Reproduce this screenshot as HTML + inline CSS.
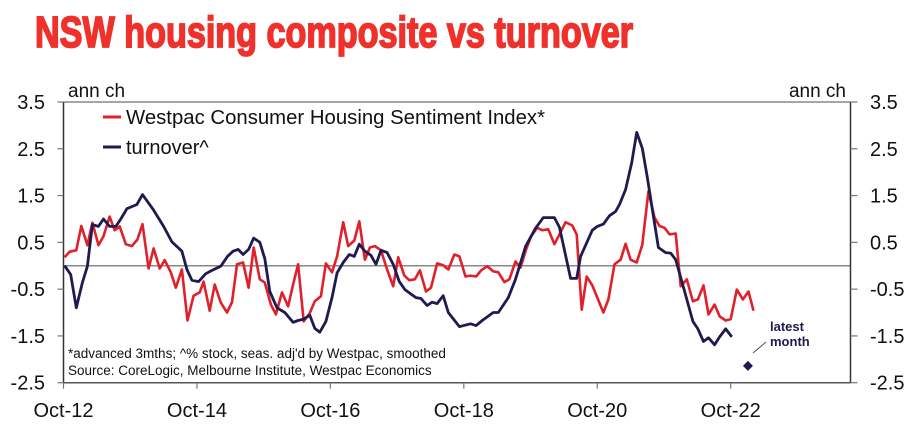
<!DOCTYPE html>
<html><head><meta charset="utf-8"><style>
body{margin:0;background:#fff;}
svg{display:block;font-family:"Liberation Sans",Arial,sans-serif;}
</style></head><body>
<svg id="chart" width="919" height="437" viewBox="0 0 919 437" xmlns="http://www.w3.org/2000/svg">
<text x="35" y="47" font-size="44" font-weight="bold" fill="#f0302a" stroke="#f0302a" stroke-width="1.8" textLength="598" lengthAdjust="spacingAndGlyphs">NSW housing composite vs turnover</text>
<g id="axes"></g>
<g id="series"></g>
<text x="68" y="97" font-size="19" fill="#111">ann ch</text>
<text x="846" y="97" font-size="19" fill="#111" text-anchor="end">ann ch</text>
<line x1="103" y1="117" x2="121" y2="117" stroke="#e0202a" stroke-width="3"/>
<text x="126" y="124" font-size="20" fill="#111" textLength="419" lengthAdjust="spacingAndGlyphs">Westpac Consumer Housing Sentiment Index*</text>
<line x1="103" y1="147" x2="121" y2="147" stroke="#1f1a4f" stroke-width="3"/>
<text x="126" y="154" font-size="20" fill="#111">turnover^</text>
<text x="68" y="358" font-size="13.5" fill="#111">*advanced 3mths; ^% stock, seas. adj'd by Westpac, smoothed</text>
<text x="68" y="375" font-size="13.5" fill="#111">Source: CoreLogic, Melbourne Institute, Westpac Economics</text>
<text x="770" y="331" font-size="13" font-weight="bold" fill="#1f1a4f">latest</text>
<text x="770" y="346" font-size="13" font-weight="bold" fill="#1f1a4f">month</text>
<line x1="753" y1="353" x2="766" y2="342" stroke="#555" stroke-width="1"/>
</svg>
<script>
const redMonths=[0.2,1.1,2.3,3.2,4.3,5.2,6.3,7.2,8.3,9.2,10.1,11.2,12.3,13.3,14.2,15.3,16.2,17.3,18.2,19.3,20.2,21.3,22.3,23.4,24.5,25.2,26.3,27.2,28.3,29.4,30.3,31.2,32.3,33.3,34.2,35.3,36.2,37.3,38.2,39.3,40.4,41.3,42.2,43.2,44.3,45.2,46.3,47.2,48.3,49.2,50.3,51.2,52.3,53.2,54.2,55.1,56.0,57.1,58.2,59.3,60.2,61.3,62.2,63.2,64.1,65.2,66.1,67.2,68.3,69.2,70.3,71.2,72.3,73.2,74.2,75.1,76.2,77.3,78.2,79.3,80.2,81.3,82.2,83.2,84.1,85.2,86.1,87.2,88.3,89.2,90.3,91.5,92.3,93.2,94.1,95.1,97.1,98.0,99.1,100.2,101.1,102.0,103.1,104.1,105.2,106.3,107.2,108.1,109.0,110.1,111.0,112.1,113.2,114.1,115.1,116.0,117.1,118.0,119.1,120.0,121.1,122.2,123.2,124.1];
const redValues=[0.18,0.3,0.33,0.85,0.44,0.92,0.44,0.63,1.05,0.76,0.84,0.46,0.42,0.56,0.89,-0.06,0.37,-0.06,0.12,-0.14,-0.47,-0.08,-1.17,-0.64,-0.57,-0.34,-0.96,-0.40,-0.79,-1.0,-0.78,0.03,0.07,-0.47,0.39,-0.29,-0.36,-0.83,-1.04,-0.57,-0.87,-0.40,0.03,-1.19,-1.01,-0.76,-0.65,0.05,-0.14,0.2,0.93,0.42,0.54,0.95,0.13,0.39,0.42,0.33,-0.08,-0.44,0.18,-0.21,-0.31,-0.29,-0.10,-0.55,-0.47,0.05,0.01,-0.08,0.24,0.20,-0.23,-0.21,-0.23,-0.10,-0.01,-0.12,-0.14,-0.35,-0.29,0.09,-0.04,0.35,0.63,0.81,0.76,0.78,0.46,0.67,0.93,0.86,0.67,-0.94,-0.23,-0.42,-1.0,-0.72,0.03,0.13,0.47,0.13,0.07,0.45,1.59,1.03,0.85,0.81,0.67,0.69,-0.44,-0.29,-0.76,-0.72,-0.42,-1.04,-0.83,-1.08,-1.17,-1.14,-0.51,-0.72,-0.55,-0.96];
const blueMonths=[0.2,1.3,2.3,3.4,4.3,5.2,6.3,7.2,8.3,9.4,10.3,11.4,13.2,14.2,16.2,18.0,19.5,21.3,22.2,23.1,24.3,25.6,26.7,28.3,29.5,30.5,31.4,32.3,33.3,34.2,35.3,36.2,37.1,38.4,39.8,41.3,42.2,43.2,44.3,45.2,46.1,47.2,48.3,49.2,50.3,51.4,52.3,53.2,54.2,55.3,56.2,57.1,58.2,59.3,60.4,61.4,62.3,63.4,64.3,65.4,66.3,67.2,68.3,69.2,71.2,73.2,74.2,75.3,77.3,78.2,80.0,81.3,83.1,84.9,86.3,88.3,89.2,91.2,92.3,93.0,94.2,95.1,96.0,97.1,98.2,99.3,100.0,101.1,102.2,103.1,104.1,105.0,105.9,107.0,108.3,109.2,110.1,111.0,112.1,113.2,114.1,115.1,116.0,117.1,118.0,119.1,120.2];
const blueValues=[0,-0.19,-0.9,-0.36,-0.01,0.88,0.84,1.0,0.84,0.84,1.0,1.22,1.31,1.52,1.19,0.84,0.51,0.31,-0.08,-0.31,-0.34,-0.17,-0.10,-0.01,0.2,0.31,0.35,0.24,0.35,0.59,0.5,0.15,-0.55,-0.9,-1.0,-1.21,-1.17,-1.14,-1.06,-1.34,-1.42,-1.19,-0.68,-0.15,0.07,0.24,0.2,0.46,0.31,0.22,0.03,0.33,0.28,0.03,-0.34,-0.51,-0.59,-0.68,-0.70,-0.85,-0.78,-0.81,-0.64,-1.0,-1.3,-1.24,-1.28,-1.17,-1.0,-1.0,-0.68,-0.29,0.41,0.8,1.03,1.03,0.82,-0.27,-0.27,0.2,0.52,0.76,0.84,0.89,1.07,1.16,1.31,1.63,2.2,2.85,2.51,1.89,1.21,0.39,0.28,0.27,0.13,-0.25,-0.72,-1.19,-1.35,-1.62,-1.54,-1.69,-1.52,-1.35,-1.52];
const latestMonth=[123.1];
const latestValue=[-2.14];
const yTicks=[3.5,2.5,1.5,0.5,-0.5,-1.5,-2.5];
const yTickLabels=["3.5","2.5","1.5","0.5","-0.5","-1.5","-2.5"];
const xTickMonths=[0,24,48,72,96,120];
const xTickLabels=["Oct-12","Oct-14","Oct-16","Oct-18","Oct-20","Oct-22"];

const NS="http://www.w3.org/2000/svg";
const X0=63.5,XR=850.5,PPM=5.56,YT=102,YB=382.7,VMAX=3.5,VMIN=-2.5;
function xs(m){return X0+m*PPM;}
function ys(v){return YT+(VMAX-v)/(VMAX-VMIN)*(YB-YT);}
function mk(tag,attrs,parent){const e=document.createElementNS(NS,tag);for(const k in attrs)e.setAttribute(k,attrs[k]);parent.appendChild(e);return e;}
const axes=document.getElementById('axes'),series=document.getElementById('series');
let e;
e=mk('line',{x1:X0,y1:YT,x2:XR,y2:YT,stroke:'#888','stroke-width':1.5},axes);


e=mk('line',{x1:X0,y1:ys(0),x2:XR,y2:ys(0),stroke:'#888','stroke-width':1.5},axes);


e=mk('line',{x1:X0,y1:YT,x2:X0,y2:YB,stroke:'#333','stroke-width':1.5},axes);


e=mk('line',{x1:XR,y1:YT,x2:XR,y2:YB,stroke:'#333','stroke-width':1.5},axes);


e=mk('line',{x1:X0,y1:YB,x2:XR,y2:YB,stroke:'#555','stroke-width':1.5},axes);


yTicks.forEach((v,i)=>{
  const y=ys(v);
  e=mk('line',{x1:X0-6,y1:y,x2:X0,y2:y,stroke:'#777','stroke-width':1.2},axes);
  
  
  e=mk('line',{x1:XR,y1:y,x2:XR+7,y2:y,stroke:'#777','stroke-width':1.2},axes);
  
  
  e=mk('text',{x:45,y:y+7,'font-size':20,'text-anchor':'end',fill:'#111'},axes);
  e.textContent=yTickLabels[i];
  
  
  e=mk('text',{x:870,y:y+7,'font-size':20,fill:'#111'},axes);
  e.textContent=yTickLabels[i];
  
  
});
xTickMonths.forEach((m,i)=>{
  const x=xs(m);
  e=mk('line',{x1:x,y1:YB,x2:x,y2:YB+6,stroke:'#777','stroke-width':1.2},axes);
  
  
  e=mk('text',{x:x,y:417,'font-size':20,'text-anchor':'middle',fill:'#111'},axes);
  e.textContent=xTickLabels[i];
  
  
});
function pts(ms,vs){return ms.map((m,i)=>xs(m).toFixed(1)+','+ys(vs[i]).toFixed(1)).join(' ');}
e=mk('polyline',{points:pts(redMonths,redValues),fill:'none',stroke:'#e0202a','stroke-width':2.6,'stroke-linejoin':'round'},series);


e=mk('polyline',{points:pts(blueMonths,blueValues),fill:'none',stroke:'#1f1a4f','stroke-width':2.8,'stroke-linejoin':'round'},series);


latestMonth.forEach((m,i)=>{
  const x=xs(m),y=ys(latestValue[i]);
  e=mk('polygon',{points:`${x},${y-5} ${x+5},${y} ${x},${y+5} ${x-5},${y}`,fill:'#1f1a4f'},series);
  
  
});
</script>
</body></html>
